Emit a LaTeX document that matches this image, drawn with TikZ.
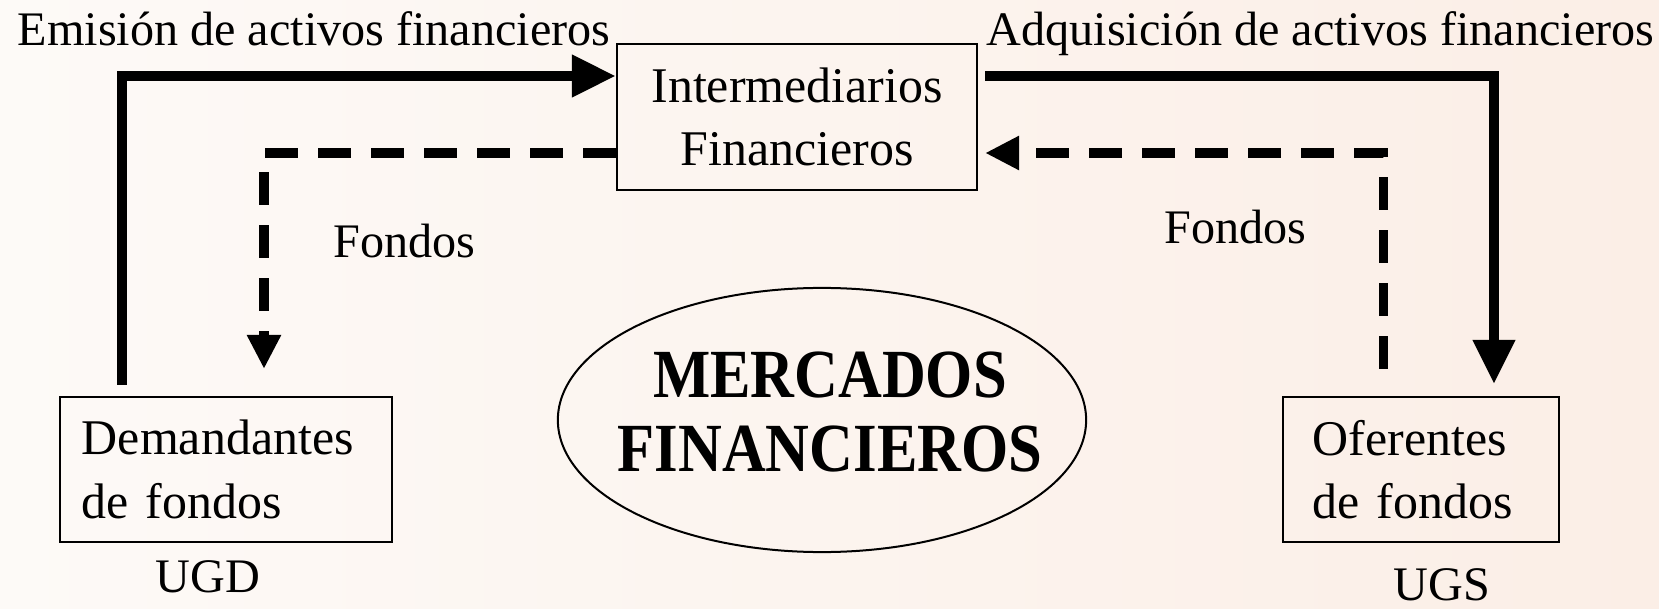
\documentclass[tikz,border=0pt]{standalone}
\usepackage{fontspec}
\setmainfont{Liberation Serif}
\newfontfamily\mercfont{Liberation Serif}[FakeStretch=0.88]
\usetikzlibrary{arrows.meta,shapes.geometric}
\definecolor{fondoizq}{RGB}{253,250,247}
\definecolor{fondoder}{RGB}{251,238,230}
\begin{document}
\begin{tikzpicture}[x=0.01cm,y=-0.01cm]
% estilos de linea y texto
\tikzstyle{caja}=[draw,line width=0.02cm,rectangle,font=\fontsize{14.2pt}{18pt}\selectfont];
\tikzstyle{rotulo}=[anchor=base west,inner sep=0pt,font=\fontsize{13.7pt}{16pt}\selectfont];
\tikzstyle{flujo}=[line width=0.1cm,-{Triangle[length=0.44cm,width=0.40cm]}];
\tikzstyle{fondos}=[line width=0.09cm,dash pattern=on 0.33cm off 0.2cm,-{Triangle[length=0.34cm,width=0.32cm]}];
% fondo
\shade[left color=fondoizq,right color=fondoder] (0,0) rectangle (1659,609);
\useasboundingbox (0,0) rectangle (1659,609);
% dibujar cajas
\node[caja,align=center,minimum width=3.6cm,minimum height=1.46cm] (inter) at (797,117) {Intermediarios\\Financieros};
\node[caja,align=left,text width=2.88cm,inner xsep=0.22cm,minimum height=1.45cm] (dem) at (226,469.5) {Demandantes\\de fondos};
\node[caja,align=left,text width=2.16cm,inner xsep=0.30cm,minimum height=1.45cm] (ofe) at (1421,469.5) {Oferentes\\de fondos};
% dibujar elipse central
\node[draw,ellipse,line width=0.02cm,inner sep=0pt,minimum width=5.28cm,minimum height=2.64cm] (elipse) at (822,420) {};
\node[align=center,inner sep=0pt,font=\mercfont\bfseries\fontsize{19.6pt}{21pt}\selectfont] (merc) at (830,412) {MERCADOS\\FINANCIEROS};
% dibujar rotulos
\node[rotulo] (emis) at (17,45) {Emisión de activos financieros};
\node[rotulo] (adqu) at (986,45) {Adquisición de activos financieros};
\node[rotulo] (fondizq) at (333,258) {Fondos};
\node[rotulo] (fondder) at (1164,243) {Fondos};
\node[rotulo] (ugd) at (155,592) {UGD};
\node[rotulo] (ugs) at (1393,600) {UGS};
% esquinas de los flujos
\coordinate (e2) at (122,76);
\coordinate (a1) at (1494,76);
\coordinate (d1) at (264,153);
\coordinate (f1) at (1383,153);
% dibujar flujos
\draw[flujo,shorten <=0.11cm] (dem.north -| e2) |- (inter.west |- e2);
\draw[flujo,shorten <=0.07cm,shorten >=0.12cm] (inter.east |- a1) -| (ofe.north -| a1);
\draw[fondos,shorten >=0.27cm] (inter.west |- d1) -| (dem.north -| d1);
\draw[fondos,shorten <=0.27cm,shorten >=0.07cm] (ofe.north -| f1) |- (inter.east |- f1);
\end{tikzpicture}
\end{document}
